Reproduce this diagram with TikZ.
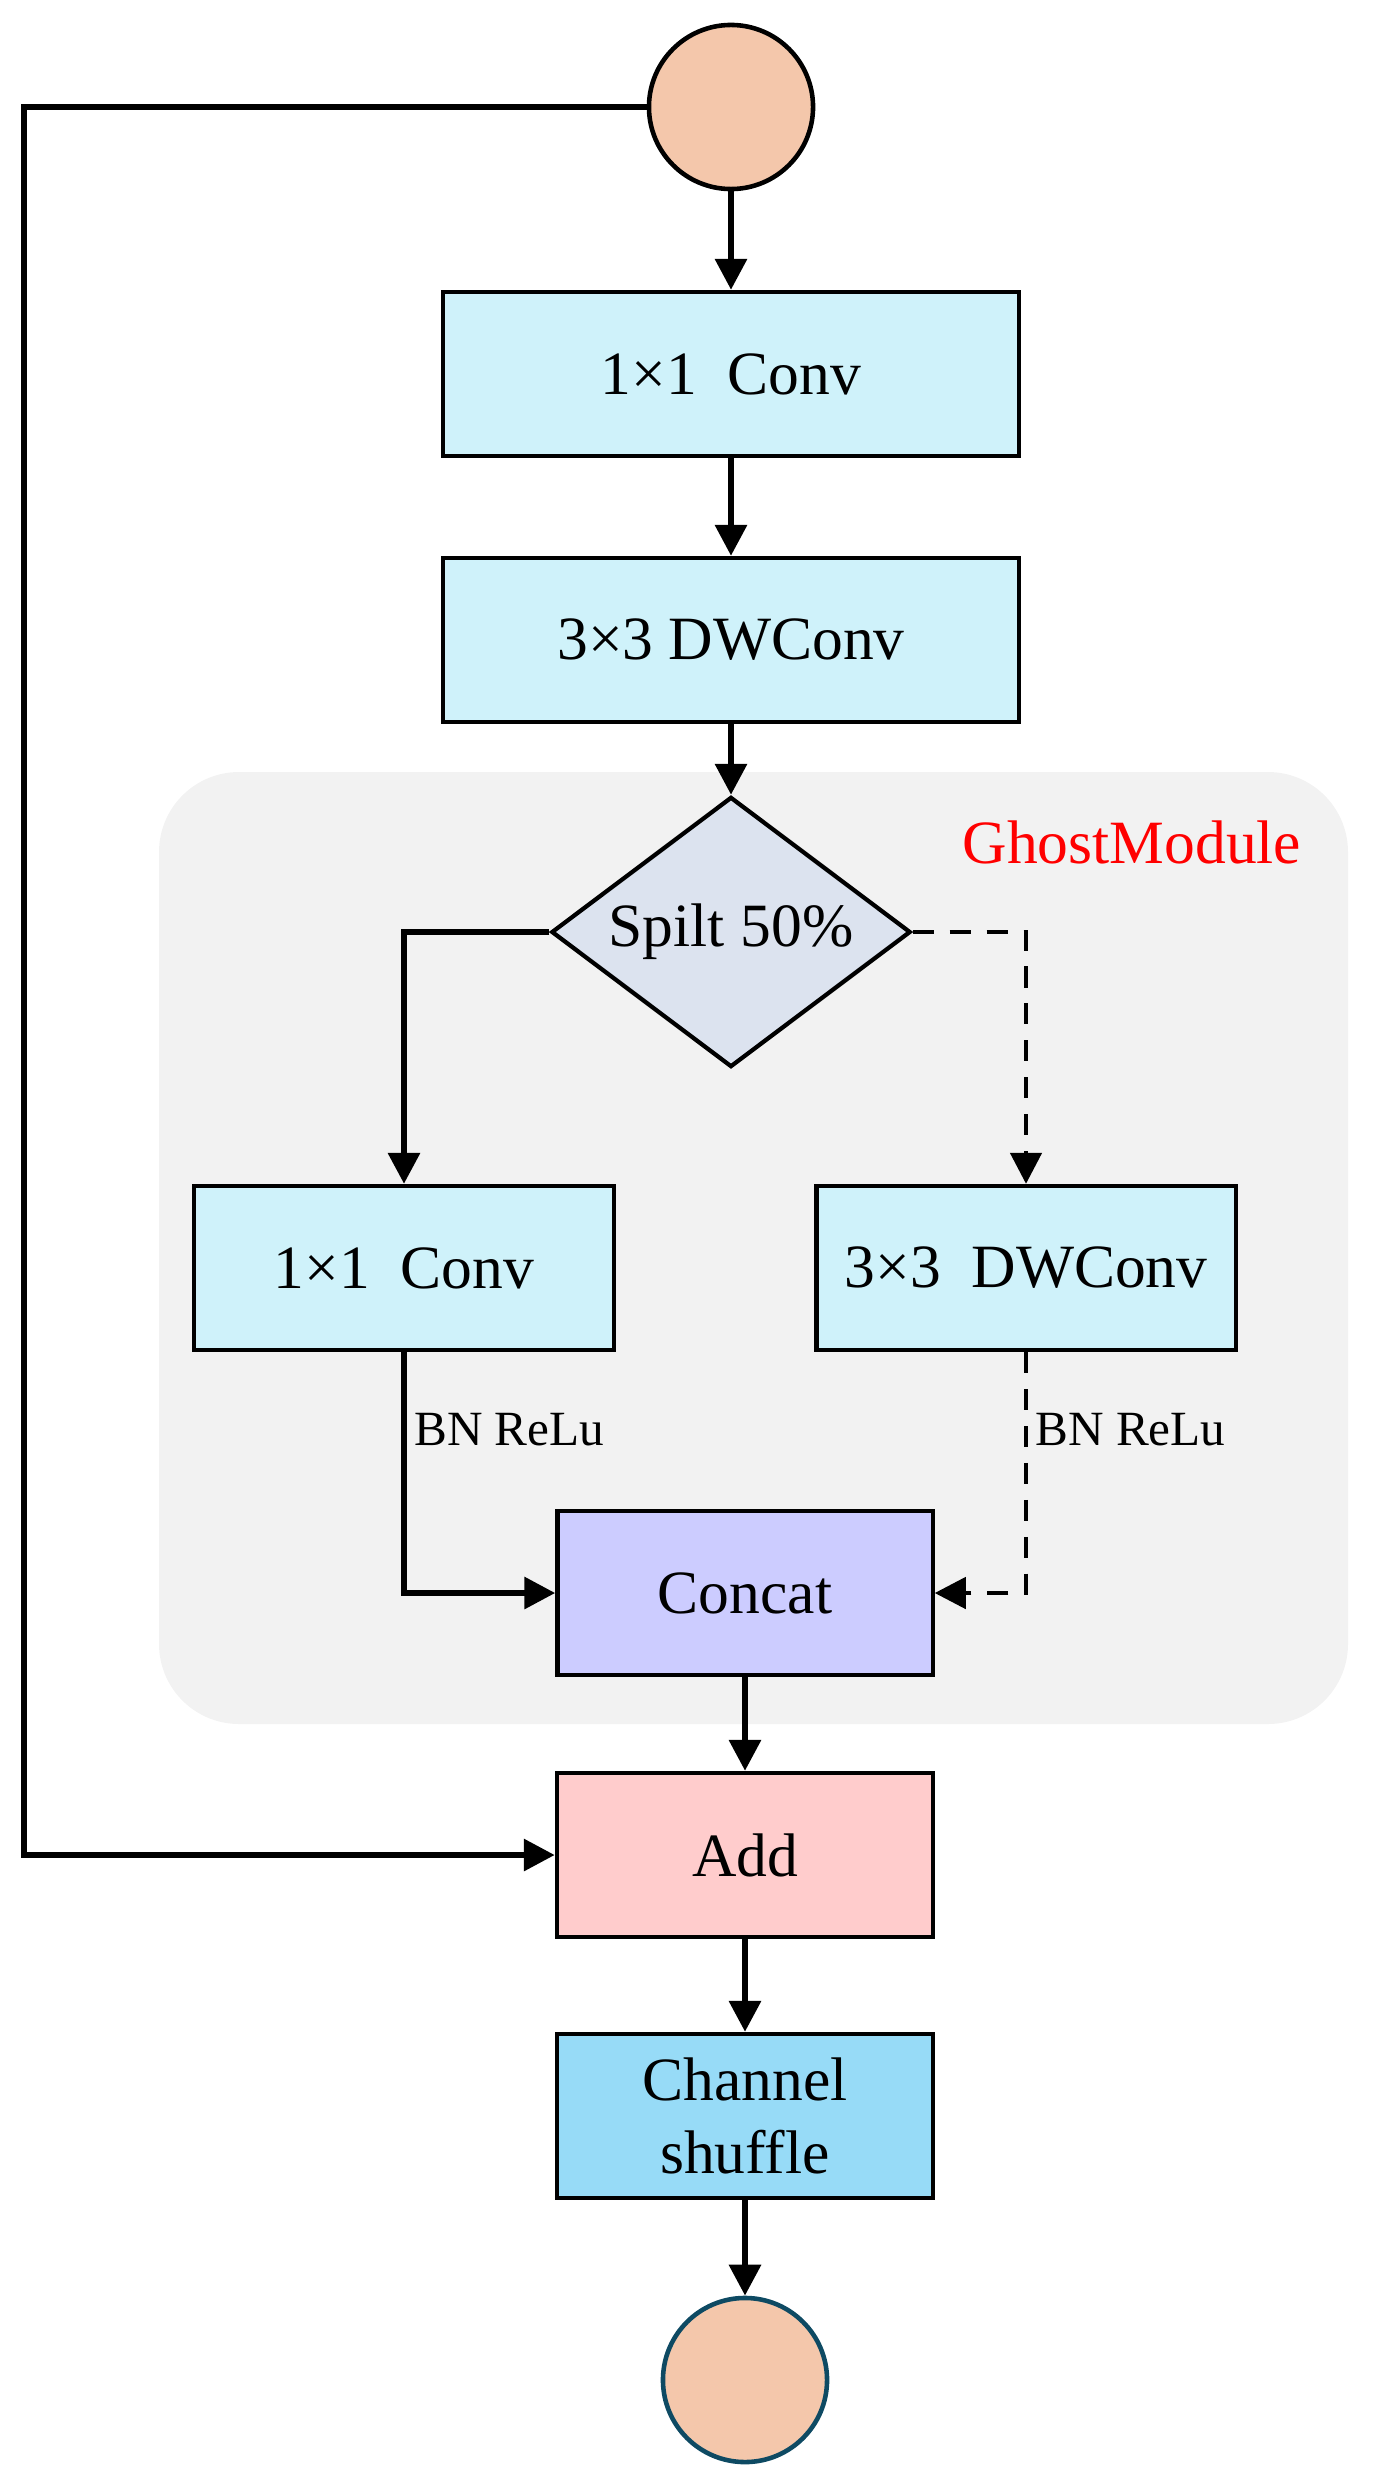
\documentclass[tikz,border=0pt]{standalone}
\usepackage{fontspec}
\setmainfont{Liberation Serif}
\usepackage{xcolor}
\usepackage{tikz}
\usetikzlibrary{positioning,arrows.meta,shapes.geometric}

\definecolor{peach}{RGB}{244,199,171}
\definecolor{convcyan}{RGB}{207,242,250}
\definecolor{splitgray}{RGB}{220,227,239}
\definecolor{concatblue}{RGB}{204,204,255}
\definecolor{addpink}{RGB}{255,204,204}
\definecolor{shuffleblue}{RGB}{151,219,247}
\definecolor{ghostgray}{RGB}{242,242,242}
\definecolor{outedge}{RGB}{14,74,99}

\begin{document}
\begin{tikzpicture}[
    x=0.01cm, y=-0.01cm,
    font=\fontsize{17.5}{20.7}\selectfont,
    block/.style={draw=black, line width=1.2pt, minimum width=#1, minimum height=1.64cm, inner sep=0pt, align=center},
    block/.default=5.76cm,
    port/.style={circle, fill=peach, line width=1.3pt, minimum size=1.64cm, inner sep=0pt},
    line/.style={line width=1.8pt, -{Triangle[length=0.31cm,width=0.31cm]}},
    dline/.style={line width=1.3pt, dash pattern=on 6pt off 4.5pt, -{Triangle[length=0.31cm,width=0.31cm]}},
    bnlab/.style={font=\fontsize{14}{16}\selectfont, inner sep=2pt}
]
\useasboundingbox (0,0) rectangle (1375,2488);

% ---- GhostModule region ----
\fill[ghostgray, rounded corners=0.8cm] (159,772) rectangle (1348,1724);
\node[text=red] (ghostlab) at (1132,842) {GhostModule};

% ---- main path ----
\node[port, draw=black] (inp) at (731,107) {};
\node[block, fill=convcyan] (conv1) at (731,374) {1×1~~Conv};
\node[block, fill=convcyan] (dw1) at (731,640) {3×3 DWConv};
\node[diamond, aspect=1.33, draw=black, line width=1.2pt, fill=splitgray, minimum width=3.59cm, minimum height=2.7cm, inner sep=0pt] (split) at (731,932) {Spilt 50\%};

% ---- two branches ----
\node[block=4.19cm, fill=convcyan] (lconv) at (404,1268) {1×1~~Conv};
\node[block=4.19cm, fill=convcyan] (rdw) at (1026,1268) {3×3~~DWConv};
\node[block=3.75cm, fill=concatblue] (concat) at (745,1593) {Concat};

% ---- output path ----
\node[block=3.76cm, fill=addpink] (add) at (745,1855) {Add};
\node[block=3.76cm, fill=shuffleblue] (shuffle) at (745,2116) {Channel\\shuffle};
\node[port, draw=outedge] (out) at (745,2380) {};

% ---- connectors ----
\draw[line] (inp) -- (conv1);
\draw[line] (conv1) -- (dw1);
\draw[line] (dw1) -- (split);
\draw[line] (split.west) -| (lconv.north);
\draw[dline] (split.east) -| (rdw.north);
\draw[line] (lconv.south) |- node[pos=0.16, right, bnlab] {BN ReLu} (concat.west);
\draw[dline] (rdw.south) |- node[pos=0.16, right, bnlab] {BN ReLu} (concat.east);
\draw[line] (concat) -- (add);
\draw[line] (add) -- (shuffle);
\draw[line] (shuffle) -- (out);

% ---- shortcut ----
\coordinate (skip) at (24,107);
\draw[line] (inp.west) -- (skip) |- (add.west);

\end{tikzpicture}
\end{document}
